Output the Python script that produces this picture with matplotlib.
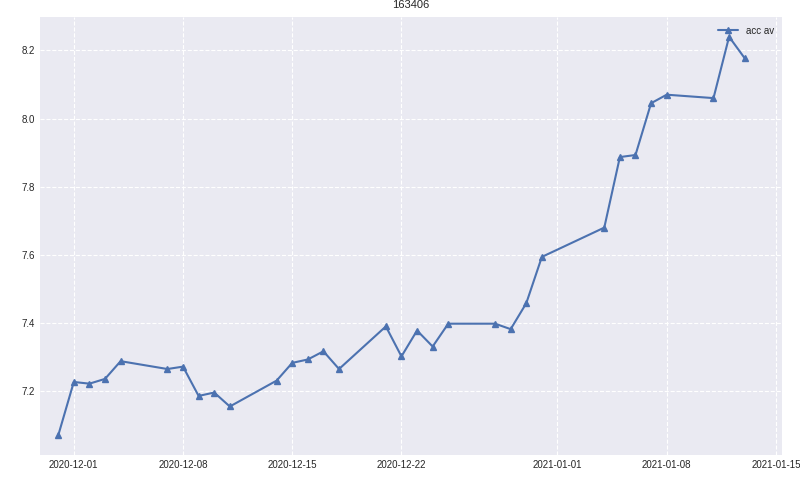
import numpy as np
import pandas as pd
import matplotlib
matplotlib.use("Agg")
import matplotlib.pyplot as plt

dates = pd.to_datetime([
    "2020-11-30", "2020-12-01", "2020-12-02", "2020-12-03", "2020-12-04",
    "2020-12-07", "2020-12-08", "2020-12-09", "2020-12-10", "2020-12-11",
    "2020-12-14", "2020-12-15", "2020-12-16", "2020-12-17", "2020-12-18",
    "2020-12-21", "2020-12-22", "2020-12-23", "2020-12-24", "2020-12-25",
    "2020-12-28", "2020-12-29", "2020-12-30", "2020-12-31",
    "2021-01-04", "2021-01-05", "2021-01-06", "2021-01-07", "2021-01-08",
    "2021-01-11", "2021-01-12", "2021-01-13",
])
acc_av = [
    7.070, 7.227, 7.222, 7.236, 7.288,
    7.265, 7.272, 7.186, 7.196, 7.155,
    7.231, 7.283, 7.293, 7.317, 7.265,
    7.390, 7.302, 7.378, 7.331, 7.398,
    7.398, 7.382, 7.458, 7.594,
    7.680, 7.887, 7.893, 8.045, 8.070,
    8.060, 8.240, 8.177,
]

plt.style.use("seaborn-v0_8-darkgrid")
fig, ax = plt.subplots(figsize=(8, 4.95), dpi=100)
ax.plot(dates, acc_av, marker="^", markersize=4, color="#4c72b0", label="acc av")
ax.grid(True, linestyle="--")
ax.set_title("163406", fontsize=8)
ax.tick_params(labelsize=7)
ax.set_xlim(pd.Timestamp("2020-11-28 20:00"), pd.Timestamp("2021-01-15 10:00"))
ax.set_yticks([7.2, 7.4, 7.6, 7.8, 8.0, 8.2])
ax.legend(fontsize=7, loc="upper right")
fig.subplots_adjust(left=0.05, right=0.978, top=0.966, bottom=0.08)
fig.savefig("out.png")
